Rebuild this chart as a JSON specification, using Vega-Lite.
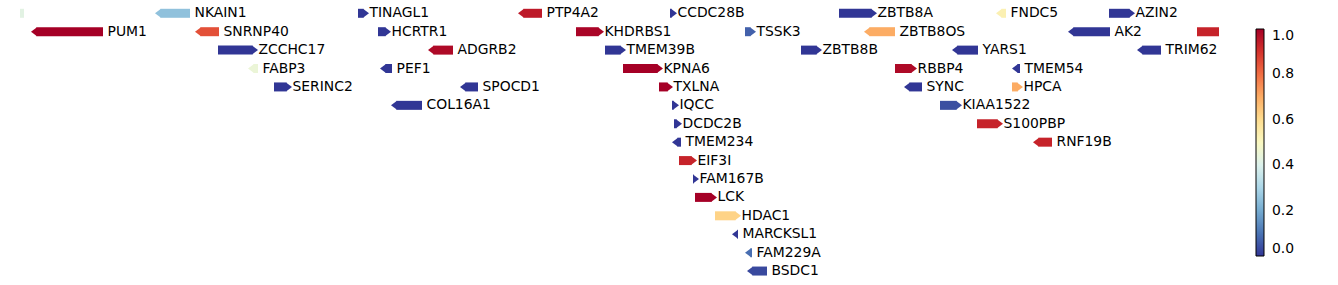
{
  "$schema": "https://vega.github.io/schema/vega-lite/v6.json",
  "width": 1199,
  "height": 285,
  "padding": {"left": 20, "top": 0, "right": 0, "bottom": 0},
  "config": {"view": {"stroke": null}, "text": {"font": "DejaVu Sans"}},
  "data": {"values": [
    {"gene": "SDC3", "start": 30873, "end": 30907.2, "strand": -1, "row": 0, "value": 0.42},
    {"gene": "NKAIN1", "start": 31143, "end": 31206, "strand": -1, "row": 0, "value": 0.25},
    {"gene": "TINAGL1", "start": 31508.4, "end": 31528.2, "strand": 1, "row": 0, "value": 0.0},
    {"gene": "PTP4A2", "start": 31796.4, "end": 31839.6, "strand": -1, "row": 0, "value": 0.95},
    {"gene": "CCDC28B", "start": 32070, "end": 32082.6, "strand": 1, "row": 0, "value": 0.0},
    {"gene": "ZBTB8A", "start": 32374.2, "end": 32442.6, "strand": 1, "row": 0, "value": 0.0},
    {"gene": "FNDC5", "start": 32656.8, "end": 32674.8, "strand": -1, "row": 0, "value": 0.53},
    {"gene": "AZIN2", "start": 32860.2, "end": 32907, "strand": 1, "row": 0, "value": 0.0},
    {"gene": "PUM1", "start": 30919.8, "end": 31049.4, "strand": -1, "row": 1, "value": 1.0},
    {"gene": "SNRNP40", "start": 31215, "end": 31258.2, "strand": -1, "row": 1, "value": 0.85},
    {"gene": "HCRTR1", "start": 31544.4, "end": 31567.8, "strand": 1, "row": 1, "value": 0.0},
    {"gene": "KHDRBS1", "start": 31900.8, "end": 31951.2, "strand": 1, "row": 1, "value": 0.99},
    {"gene": "TSSK3", "start": 32205, "end": 32224.8, "strand": 1, "row": 1, "value": 0.07},
    {"gene": "ZBTB8OS", "start": 32419.2, "end": 32475, "strand": -1, "row": 1, "value": 0.7},
    {"gene": "AK2", "start": 32786.4, "end": 32862, "strand": -1, "row": 1, "value": 0.0},
    {"gene": "PHC2", "start": 33018.6, "end": 33096, "strand": 1, "row": 1, "value": 0.93},
    {"gene": "ZCCHC17", "start": 31256.4, "end": 31328.4, "strand": 1, "row": 2, "value": 0.0},
    {"gene": "ADGRB2", "start": 31634.4, "end": 31679.4, "strand": -1, "row": 2, "value": 0.98},
    {"gene": "TMEM39B", "start": 31953, "end": 31990.8, "strand": 1, "row": 2, "value": 0.0},
    {"gene": "ZBTB8B", "start": 32305.8, "end": 32343.6, "strand": 1, "row": 2, "value": 0.0},
    {"gene": "YARS1", "start": 32577.6, "end": 32624.4, "strand": -1, "row": 2, "value": 0.0},
    {"gene": "TRIM62", "start": 32910.6, "end": 32953.8, "strand": -1, "row": 2, "value": 0.0},
    {"gene": "FABP3", "start": 31310.4, "end": 31328.4, "strand": -1, "row": 3, "value": 0.45},
    {"gene": "PEF1", "start": 31548, "end": 31569.6, "strand": -1, "row": 3, "value": 0.0},
    {"gene": "KPNA6", "start": 31985.4, "end": 32057.4, "strand": 1, "row": 3, "value": 1.0},
    {"gene": "RBBP4", "start": 32475, "end": 32514.6, "strand": 1, "row": 3, "value": 0.98},
    {"gene": "TMEM54", "start": 32685.6, "end": 32700, "strand": -1, "row": 3, "value": 0.0},
    {"gene": "SERINC2", "start": 31357.2, "end": 31389.6, "strand": 1, "row": 4, "value": 0.0},
    {"gene": "SPOCD1", "start": 31692, "end": 31724.4, "strand": -1, "row": 4, "value": 0.0},
    {"gene": "TXLNA", "start": 32050.2, "end": 32075.4, "strand": 1, "row": 4, "value": 1.0},
    {"gene": "SYNC", "start": 32491.2, "end": 32523.6, "strand": -1, "row": 4, "value": 0.0},
    {"gene": "HPCA", "start": 32685.6, "end": 32705.4, "strand": 1, "row": 4, "value": 0.7},
    {"gene": "COL16A1", "start": 31567.8, "end": 31623.6, "strand": -1, "row": 5, "value": 0.0},
    {"gene": "IQCC", "start": 32073.6, "end": 32086.2, "strand": 1, "row": 5, "value": 0.0},
    {"gene": "KIAA1522", "start": 32556, "end": 32595.6, "strand": 1, "row": 5, "value": 0.04},
    {"gene": "DCDC2B", "start": 32077.2, "end": 32091.6, "strand": 1, "row": 6, "value": 0.0},
    {"gene": "S100PBP", "start": 32622.6, "end": 32669.4, "strand": 1, "row": 6, "value": 0.93},
    {"gene": "TMEM234", "start": 32073.6, "end": 32089.8, "strand": -1, "row": 7, "value": 0.0},
    {"gene": "RNF19B", "start": 32723.4, "end": 32757.6, "strand": -1, "row": 7, "value": 0.93},
    {"gene": "EIF3I", "start": 32086.2, "end": 32118.6, "strand": 1, "row": 8, "value": 0.93},
    {"gene": "FAM167B", "start": 32111.4, "end": 32122.2, "strand": 1, "row": 9, "value": 0.0},
    {"gene": "LCK", "start": 32115, "end": 32154.6, "strand": 1, "row": 10, "value": 1.0},
    {"gene": "HDAC1", "start": 32151, "end": 32197.8, "strand": 1, "row": 11, "value": 0.62},
    {"gene": "MARCKSL1", "start": 32181.6, "end": 32192.4, "strand": -1, "row": 12, "value": 0.0},
    {"gene": "FAM229A", "start": 32205, "end": 32217.6, "strand": -1, "row": 13, "value": 0.09},
    {"gene": "BSDC1", "start": 32208.6, "end": 32244.6, "strand": -1, "row": 14, "value": 0.03}
  ]},
  "encoding": {
    "y": {"field": "row", "type": "quantitative", "scale": {"domain": [-0.722, 14.758], "reverse": true, "nice": false, "zero": false, "padding": 0}, "axis": null}
  },
  "layer": [
    {
      "transform": [{"filter": "datum.strand == 1"}],
      "mark": {"type": "bar", "orient": "horizontal", "size": 9, "x2Offset": -5.5, "clip": true},
      "encoding": {
        "x": {"field": "start", "type": "quantitative", "scale": {"domain": [30900, 33058.2], "nice": false, "zero": false, "padding": 0}, "axis": null},
        "x2": {"field": "end"},
        "color": {"field": "value", "type": "quantitative", "scale": {"scheme": "redyellowblue", "reverse": true, "domain": [0, 1]},
          "legend": {"orient": "none", "legendX": 1236, "legendY": 29, "direction": "vertical", "gradientLength": 227, "gradientThickness": 8, "gradientStrokeColor": "black", "gradientStrokeWidth": 1, "title": null, "values": [0, 0.2, 0.4, 0.6, 0.8, 1], "format": ".1f", "labelFont": "DejaVu Sans", "labelFontSize": 13.9, "labelColor": "black", "labelOffset": 8, "padding": 0}}
      }
    },
    {
      "transform": [{"filter": "datum.strand == -1"}],
      "mark": {"type": "bar", "orient": "horizontal", "size": 9, "xOffset": 5.5, "clip": true},
      "encoding": {
        "x": {"field": "start", "type": "quantitative"},
        "x2": {"field": "end"},
        "color": {"field": "value", "type": "quantitative"}
      }
    },
    {
      "transform": [{"filter": "datum.strand == 1"}],
      "mark": {"type": "point", "shape": "M0,0L-1.333,-1L-1.333,1Z", "size": 81, "filled": true, "opacity": 1, "strokeWidth": 0, "clip": true},
      "encoding": {
        "x": {"field": "end", "type": "quantitative"},
        "color": {"field": "value", "type": "quantitative"}
      }
    },
    {
      "transform": [{"filter": "datum.strand == -1"}],
      "mark": {"type": "point", "shape": "M0,0L1.333,-1L1.333,1Z", "size": 81, "filled": true, "opacity": 1, "strokeWidth": 0, "clip": true},
      "encoding": {
        "x": {"field": "start", "type": "quantitative"},
        "color": {"field": "value", "type": "quantitative"}
      }
    },
    {
      "transform": [{"filter": "datum.strand == 1 && datum.start >= 30900 && datum.end <= 33058.2"}],
      "mark": {"type": "text", "align": "left", "baseline": "middle", "dx": 0.5, "fontSize": 13.9, "font": "DejaVu Sans", "color": "black"},
      "encoding": {
        "x": {"field": "end", "type": "quantitative"},
        "text": {"field": "gene"}
      }
    },
    {
      "transform": [{"filter": "datum.strand == -1 && datum.start >= 30900 && datum.end <= 33058.2"}],
      "mark": {"type": "text", "align": "left", "baseline": "middle", "dx": 4.5, "fontSize": 13.9, "font": "DejaVu Sans", "color": "black"},
      "encoding": {
        "x": {"field": "end", "type": "quantitative"},
        "text": {"field": "gene"}
      }
    }
  ]
}
